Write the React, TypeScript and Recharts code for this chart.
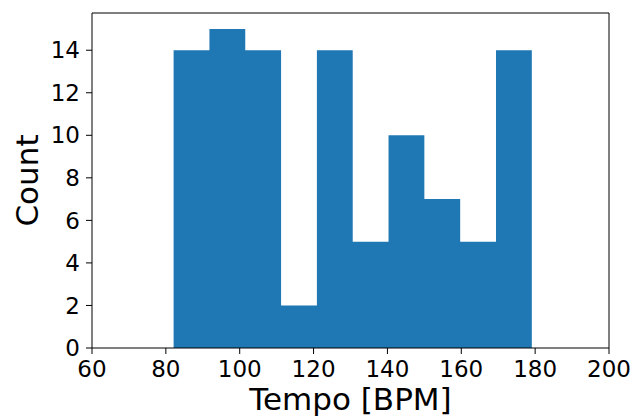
import { AreaChart, Area, XAxis, YAxis, Label, ReferenceLine } from "recharts";

// histogram bin edges (BPM) and counts per bin
const binEdges = [82.1, 91.8, 101.5, 111.2, 120.9, 130.6, 140.3, 150.0, 159.7, 169.4, 179.1];
const counts = [14, 15, 14, 2, 14, 5, 10, 7, 5, 14];

const xTicks = [60, 80, 100, 120, 140, 160, 180, 200];
const yTicks = [0, 2, 4, 6, 8, 10, 12, 14];
const xDomain = [60, 200];
const yDomain = [0, 15.75];

// step area: each edge carries the count of the bin that starts there
const data = binEdges.map((edge, i) => ({ tempo: edge, count: counts[i] ?? 0 }));

const FONT = "DejaVu Sans";
const tickStyle = { fill: "#000", fontSize: 23, fontFamily: FONT };

function CountLabel({ viewBox }: { viewBox?: any }) {
  if (!viewBox) return null;
  const cx = 27;
  const cy = viewBox.y + viewBox.height / 2;
  return (
    <text
      x={cx}
      y={cy}
      transform={`rotate(-90, ${cx}, ${cy})`}
      textAnchor="middle"
      dominantBaseline="central"
      fontSize={31}
      fontFamily={FONT}
      fill="#000"
    >
      Count
    </text>
  );
}

export default function App() {
  return (
    <div style={{ position: "absolute", left: 0, top: 0, background: "#fff" }}>
      <AreaChart
        width={644}
        height={416}
        data={data}
        margin={{ top: 13, right: 35, left: 0, bottom: 0 }}
      >
        <XAxis
          dataKey="tempo"
          type="number"
          domain={xDomain}
          ticks={xTicks}
          height={68}
          tick={tickStyle}
          tickSize={6}
          tickMargin={7}
          tickLine={{ stroke: "#000" }}
          axisLine={{ stroke: "#000" }}
        >
          <Label
            value="Tempo [BPM]"
            position="insideBottom"
            offset={6}
            style={{ fontSize: 31, fontFamily: FONT, fill: "#000" }}
          />
        </XAxis>
        <YAxis
          type="number"
          domain={yDomain}
          ticks={yTicks}
          width={92}
          tick={tickStyle}
          tickSize={6}
          tickMargin={6}
          tickLine={{ stroke: "#000" }}
          axisLine={{ stroke: "#000" }}
          label={<CountLabel />}
        />
        <Area
          type="stepAfter"
          dataKey="count"
          fill="#1f77b4"
          fillOpacity={1}
          stroke="none"
          baseValue={0}
          dot={false}
          activeDot={false}
          isAnimationActive={false}
        />
        {/* top and right frame of the axes box */}
        <ReferenceLine y={yDomain[1]} stroke="#000" ifOverflow="extendDomain" />
        <ReferenceLine x={xDomain[1]} stroke="#000" ifOverflow="extendDomain" />
      </AreaChart>
    </div>
  );
}
